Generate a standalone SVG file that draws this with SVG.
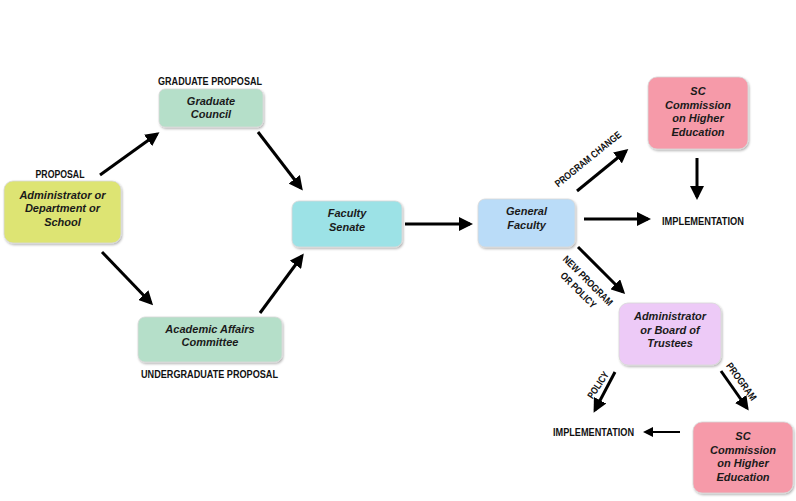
<svg xmlns="http://www.w3.org/2000/svg" width="796" height="501" viewBox="0 0 796 501">
<style>
.node{stroke:#d8d8d8;stroke-width:0.8;filter:url(#sh)}
.nt{font-family:"Liberation Sans",Arial,sans-serif;font-size:11px;font-weight:bold;font-style:italic;fill:#1a1a1a;text-anchor:middle}
.lb{font-family:"Liberation Sans",Arial,sans-serif;font-size:10px;font-weight:bold;fill:#111;}
.c{stroke:#000;stroke-width:3;fill:none;marker-end:url(#ah)}
.c2{stroke:#000;stroke-width:2;fill:none;marker-end:url(#ah2)}
</style>
<defs>
<filter id="sh" x="-10%" y="-10%" width="125%" height="130%">
<feDropShadow dx="1" dy="1.5" stdDeviation="1" flood-color="#000" flood-opacity="0.3"/>
</filter>
<marker id="ah" viewBox="0 0 14 14" markerWidth="14" markerHeight="14" refX="11" refY="7" orient="auto" markerUnits="userSpaceOnUse">
<path d="M0,0 L14,7 L0,14 z" fill="#000"/>
</marker>
<marker id="ah2" viewBox="0 0 10 10" markerWidth="10" markerHeight="10" refX="8" refY="5" orient="auto" markerUnits="userSpaceOnUse">
<path d="M0,0 L10,5 L0,10 z" fill="#000"/>
</marker>
</defs>
<rect width="796" height="501" fill="#fff"/>

<g id="connectors">
<line class="c" x1="100" y1="175" x2="157" y2="134"/>
<line class="c" x1="258" y1="132" x2="301" y2="188"/>
<line class="c" x1="102" y1="252" x2="151" y2="303"/>
<line class="c" x1="260" y1="313" x2="302" y2="256"/>
<line class="c" x1="405" y1="224" x2="470" y2="224"/>
<line class="c" x1="584" y1="219" x2="648" y2="219"/>
<line class="c" x1="577" y1="191" x2="626" y2="151"/>
<line class="c" x1="697" y1="158" x2="697" y2="197"/>
<line class="c" x1="578" y1="247" x2="623" y2="292"/>
<line class="c" x1="615" y1="372" x2="595" y2="410"/>
<line class="c" x1="721" y1="371" x2="747" y2="408"/>
<line class="c2" x1="680" y1="432" x2="645" y2="432"/>
</g>

<g id="n-admin">
<rect class="node" x="4" y="181" width="117" height="62" rx="9" fill="#dde473"/>
<text class="nt" x="62.5" y="198.5">Administrator or</text>
<text class="nt" x="62.5" y="212">Department or</text>
<text class="nt" x="62.5" y="225.5">School</text>
</g>
<g id="n-grad">
<rect class="node" x="159" y="89" width="104" height="38" rx="6" fill="#b5dfc9"/>
<text class="nt" x="211" y="105">Graduate</text>
<text class="nt" x="211" y="118">Council</text>
</g>
<g id="n-academic">
<rect class="node" x="138" y="317" width="144" height="45" rx="7" fill="#b5dfc9"/>
<text class="nt" x="210" y="333">Academic Affairs</text>
<text class="nt" x="210" y="346">Committee</text>
</g>
<g id="n-senate">
<rect class="node" x="292" y="201" width="110" height="46" rx="7" fill="#9ce2e6"/>
<text class="nt" x="347" y="217">Faculty</text>
<text class="nt" x="347" y="231">Senate</text>
</g>
<g id="n-general">
<rect class="node" x="478" y="199" width="97" height="48" rx="7" fill="#badcf8"/>
<text class="nt" x="526.5" y="215">General</text>
<text class="nt" x="526.5" y="229">Faculty</text>
</g>
<g id="n-sc1">
<rect class="node" x="648" y="77" width="100" height="72" rx="9" fill="#f69aa9"/>
<text class="nt" x="698" y="95">SC</text>
<text class="nt" x="698" y="109">Commission</text>
<text class="nt" x="698" y="122">on Higher</text>
<text class="nt" x="698" y="136">Education</text>
</g>
<g id="n-board">
<rect class="node" x="619" y="303" width="102" height="62" rx="9" fill="#edcaf7"/>
<text class="nt" x="670" y="320">Administrator</text>
<text class="nt" x="670" y="334">or Board of</text>
<text class="nt" x="670" y="347">Trustees</text>
</g>
<g id="n-sc2">
<rect class="node" x="693" y="422" width="100" height="71" rx="9" fill="#f69aa9"/>
<text class="nt" x="743" y="440">SC</text>
<text class="nt" x="743" y="454">Commission</text>
<text class="nt" x="743" y="467">on Higher</text>
<text class="nt" x="743" y="481">Education</text>
</g>

<g id="labels">
<text class="lb" x="35.5" y="178" textLength="49" lengthAdjust="spacingAndGlyphs">PROPOSAL</text>
<text class="lb" x="158" y="85" textLength="104" lengthAdjust="spacingAndGlyphs">GRADUATE PROPOSAL</text>
<text class="lb" x="141" y="377.5" textLength="137" lengthAdjust="spacingAndGlyphs">UNDERGRADUATE PROPOSAL</text>
<text class="lb" x="662" y="225" textLength="82" lengthAdjust="spacingAndGlyphs">IMPLEMENTATION</text>
<text class="lb" x="553" y="436" textLength="81" lengthAdjust="spacingAndGlyphs">IMPLEMENTATION</text>
<g transform="translate(588,159) rotate(-39)">
<text class="lb" x="-41" y="3.5" textLength="82" lengthAdjust="spacingAndGlyphs">PROGRAM CHANGE</text>
</g>
<g transform="translate(583,285.5) rotate(45)">
<text class="lb" x="-33" y="-3.5" textLength="66" lengthAdjust="spacingAndGlyphs">NEW PROGRAM</text>
<text class="lb" x="-23" y="10" textLength="46" lengthAdjust="spacingAndGlyphs">OR POLICY</text>
</g>
<g transform="translate(598,385) rotate(-56)">
<text class="lb" x="-15" y="3.5" textLength="30" lengthAdjust="spacingAndGlyphs">POLICY</text>
</g>
<g transform="translate(741.5,381.5) rotate(54)">
<text class="lb" x="-22" y="3.5" textLength="44" lengthAdjust="spacingAndGlyphs">PROGRAM</text>
</g>
</g>
</svg>
